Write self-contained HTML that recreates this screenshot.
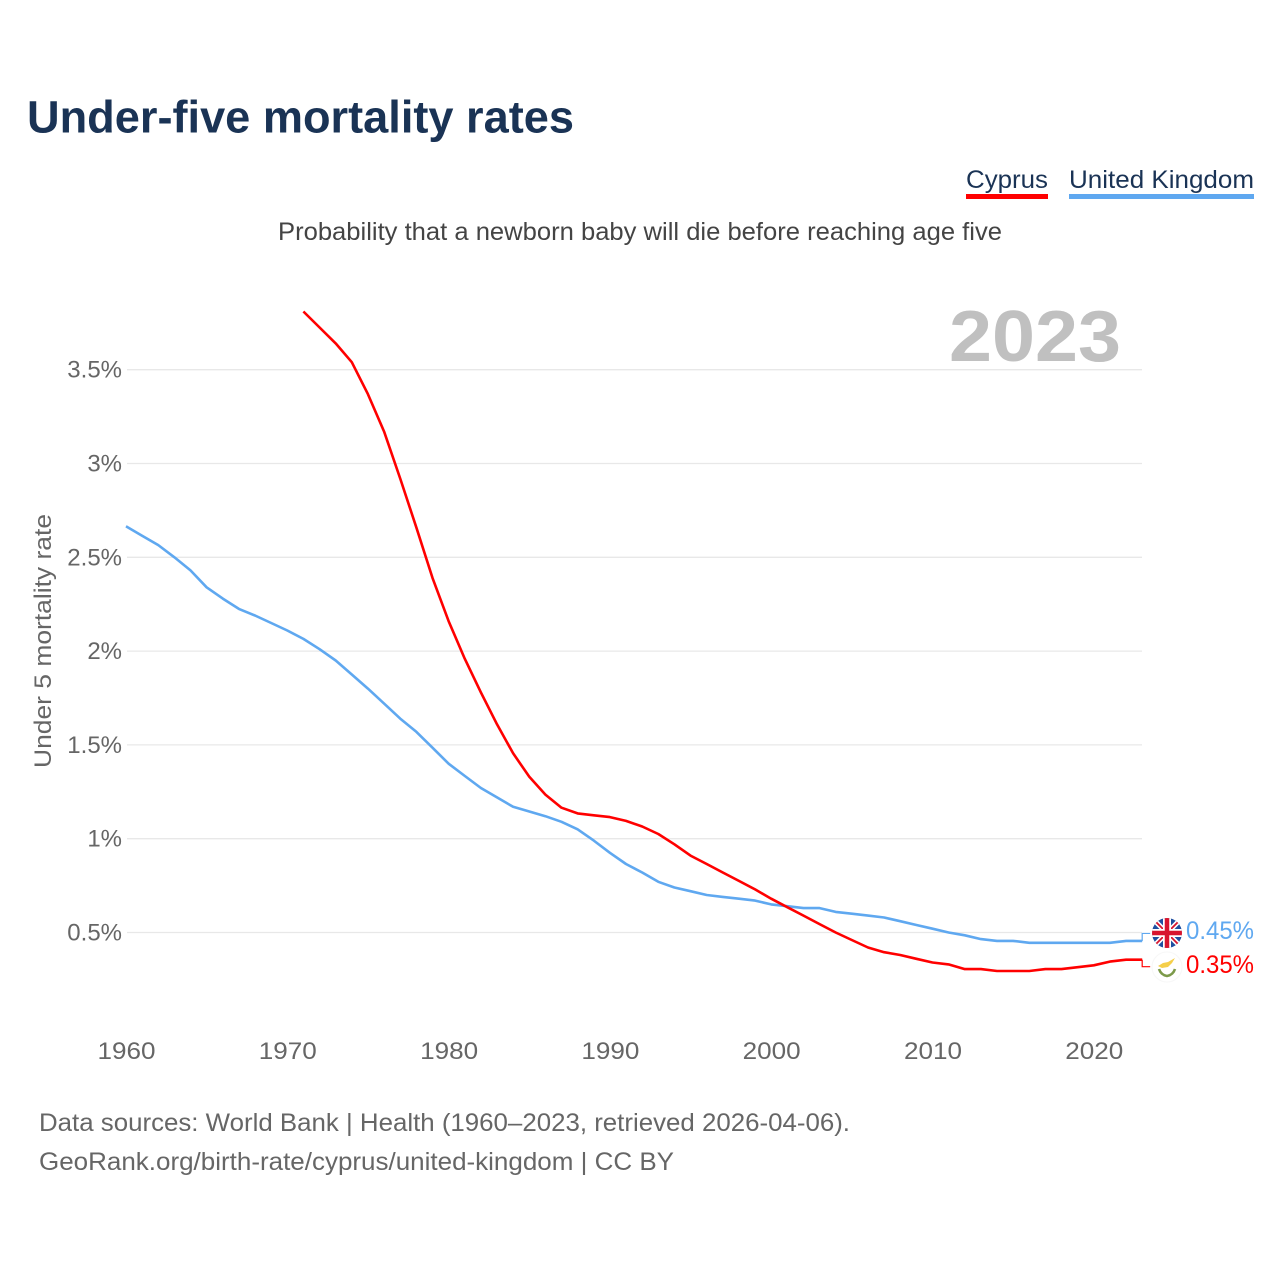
<!DOCTYPE html>
<html lang="en">
<head>
<meta charset="utf-8">
<title>Under-five mortality rates</title>
<style>
html,body{margin:0;padding:0;background:#fff}
svg{display:block}
text{font-family:"Liberation Sans",sans-serif}
</style>
</head>
<body>
<svg id="chart" xmlns="http://www.w3.org/2000/svg" width="1280" height="1280" viewBox="0 0 1280 1280">
<rect width="1280" height="1280" fill="#fff"/>
<text x="27" y="132.5" font-size="45" font-weight="700" fill="#1a3355" textLength="547" lengthAdjust="spacingAndGlyphs">Under-five mortality rates</text>
<g>
<text x="966" y="188" font-size="25" fill="#1a3355" textLength="82" lengthAdjust="spacingAndGlyphs">Cyprus</text>
<rect x="966" y="194" width="82" height="5" fill="#ff0000"/>
</g>
<g>
<text x="1069" y="188" font-size="25" fill="#1a3355" textLength="185" lengthAdjust="spacingAndGlyphs">United Kingdom</text>
<rect x="1069" y="194" width="185" height="5" fill="#5fa8f0"/>
</g>
<text x="278" y="240" font-size="25" fill="#444" textLength="724" lengthAdjust="spacingAndGlyphs">Probability that a newborn baby will die before reaching age five</text>
<text x="949" y="361" font-size="72" font-weight="700" fill="#c0c0c0" textLength="172" lengthAdjust="spacingAndGlyphs">2023</text>
<text transform="translate(51,641) rotate(-90)" text-anchor="middle" font-size="24" fill="#666" textLength="254" lengthAdjust="spacingAndGlyphs">Under 5 mortality rate</text>
<g id="grid"></g>
<g id="yticks"></g>
<g id="xticks"></g>
<g id="series"></g>
<g id="end-labels"></g>
<defs>
<clipPath id="ukClip"><circle cx="1167" cy="933" r="15"/></clipPath>
</defs>
<g clip-path="url(#ukClip)">
<rect x="1152" y="918" width="30" height="30" fill="#1f4fa0"/>
<path d="M1152 918L1182 948M1182 918L1152 948" stroke="#fff" stroke-width="5"/>
<path d="M1152 918L1182 948M1182 918L1152 948" stroke="#d8142e" stroke-width="1.8"/>
<path d="M1167 918V948M1152 933H1182" stroke="#fff" stroke-width="8"/>
<path d="M1167 918V948M1152 933H1182" stroke="#d8142e" stroke-width="4.5"/>
</g>
<g>
<circle cx="1167" cy="967" r="15" fill="#fff" stroke="#f7f7f7" stroke-width="1"/>
<path d="M1158 966L1163 963L1168 962L1175 958L1172 963L1168 967L1162 968Z" fill="#f5cf4a"/>
<path d="M1159 969Q1161 975 1167 976Q1173 975 1175 969" fill="none" stroke="#7c9a4a" stroke-width="2.6"/>
</g>
<text x="39" y="1131" font-size="25" fill="#666" textLength="811" lengthAdjust="spacingAndGlyphs">Data sources: World Bank | Health (1960–2023, retrieved 2026-04-06).</text>
<text x="39" y="1170" font-size="25" fill="#666" textLength="635" lengthAdjust="spacingAndGlyphs">GeoRank.org/birth-rate/cyprus/united-kingdom | CC BY</text>
</svg>
<script>
const ukYears = [1960,1961,1962,1963,1964,1965,1966,1967,1968,1969,1970,1971,1972,1973,1974,1975,1976,1977,1978,1979,1980,1981,1982,1983,1984,1985,1986,1987,1988,1989,1990,1991,1992,1993,1994,1995,1996,1997,1998,1999,2000,2001,2002,2003,2004,2005,2006,2007,2008,2009,2010,2011,2012,2013,2014,2015,2016,2017,2018,2019,2020,2021,2022,2023];
const ukValues = [2.665,2.615,2.565,2.50,2.43,2.34,2.28,2.225,2.19,2.15,2.11,2.065,2.01,1.95,1.875,1.80,1.72,1.64,1.57,1.485,1.40,1.335,1.27,1.22,1.17,1.145,1.12,1.09,1.05,0.99,0.925,0.865,0.82,0.77,0.74,0.72,0.70,0.69,0.68,0.67,0.65,0.64,0.63,0.63,0.61,0.60,0.59,0.58,0.56,0.54,0.52,0.50,0.485,0.465,0.455,0.455,0.445,0.445,0.445,0.445,0.445,0.445,0.455,0.455];
const cyprusYears = [1971,1972,1973,1974,1975,1976,1977,1978,1979,1980,1981,1982,1983,1984,1985,1986,1987,1988,1989,1990,1991,1992,1993,1994,1995,1996,1997,1998,1999,2000,2001,2002,2003,2004,2005,2006,2007,2008,2009,2010,2011,2012,2013,2014,2015,2016,2017,2018,2019,2020,2021,2022,2023];
const cyprusValues = [3.81,3.725,3.64,3.54,3.37,3.17,2.92,2.66,2.39,2.16,1.96,1.78,1.61,1.455,1.33,1.235,1.165,1.135,1.125,1.115,1.095,1.065,1.025,0.97,0.91,0.865,0.82,0.775,0.73,0.68,0.635,0.59,0.545,0.50,0.46,0.42,0.395,0.38,0.36,0.34,0.33,0.305,0.305,0.295,0.295,0.295,0.305,0.305,0.315,0.325,0.345,0.355,0.355];
const yTickValues = [0.5,1,1.5,2,2.5,3,3.5];
const yTickLabels = ['0.5%','1%','1.5%','2%','2.5%','3%','3.5%'];
const xTickValues = [1960,1970,1980,1990,2000,2010,2020];
const xTickLabels = ['1960','1970','1980','1990','2000','2010','2020'];
const endLabels = ['0.45%','0.35%'];

const svgNS = 'http://www.w3.org/2000/svg';
function xScale(year){ return 126 + (year - 1960) * 16.13; }
function yScale(v){ return 1026.3 - v * 187.6; }
function make(tag, attrs, parent, text){
  const el = document.createElementNS(svgNS, tag);
  for (const k in attrs) el.setAttribute(k, attrs[k]);
  if (text !== undefined) el.textContent = text;
  document.getElementById(parent).appendChild(el);
  return el;
}
yTickValues.forEach(function(v, i){
  const line = make('line', {x1: 127, x2: 1142, y1: yScale(v), y2: yScale(v), stroke: '#e8e8e8', 'stroke-width': 1.3}, 'grid');
  
  
  const label = make('text', {x: 122, y: yScale(v) + 8, 'text-anchor': 'end', 'font-size': 24, fill: '#666'}, 'yticks', yTickLabels[i]);
  
  
});
xTickValues.forEach(function(year, i){
  const label = make('text', {x: xScale(year) + 0.5, y: 1059, 'text-anchor': 'middle', 'font-size': 24, fill: '#666', textLength: 58, lengthAdjust: 'spacingAndGlyphs'}, 'xticks', xTickLabels[i]);
  
  
});
function drawSeries(years, values, color, offset, name){
  const lastY = yScale(values[values.length - 1]);
  const pts = years.map(function(year, i){ return xScale(year).toFixed(1) + ',' + yScale(values[i]).toFixed(1); });
  const line = make('polyline', {points: pts.join(' '), fill: 'none', stroke: color, 'stroke-width': 2.6, 'stroke-linejoin': 'round'}, 'series');
  
  
  const x = xScale(2023);
  const lead = make('polyline', {points: x + ',' + lastY + ' ' + x + ',' + (lastY + offset) + ' ' + (x + 8) + ',' + (lastY + offset), fill: 'none', stroke: color, 'stroke-width': 1.2}, 'series');
  
  
}
drawSeries(ukYears, ukValues, '#5fa8f0', -7.5, 'united-kingdom');
drawSeries(cyprusYears, cyprusValues, '#ff0000', 7, 'cyprus');
const ukEnd = make('text', {x: 1254, y: 939, 'text-anchor': 'end', 'font-size': 25, fill: '#5fa8f0', textLength: 68, lengthAdjust: 'spacingAndGlyphs'}, 'end-labels', endLabels[0]);


const cyEnd = make('text', {x: 1254, y: 973, 'text-anchor': 'end', 'font-size': 25, fill: '#ff0000', textLength: 68, lengthAdjust: 'spacingAndGlyphs'}, 'end-labels', endLabels[1]);


</script>
</body>
</html>
